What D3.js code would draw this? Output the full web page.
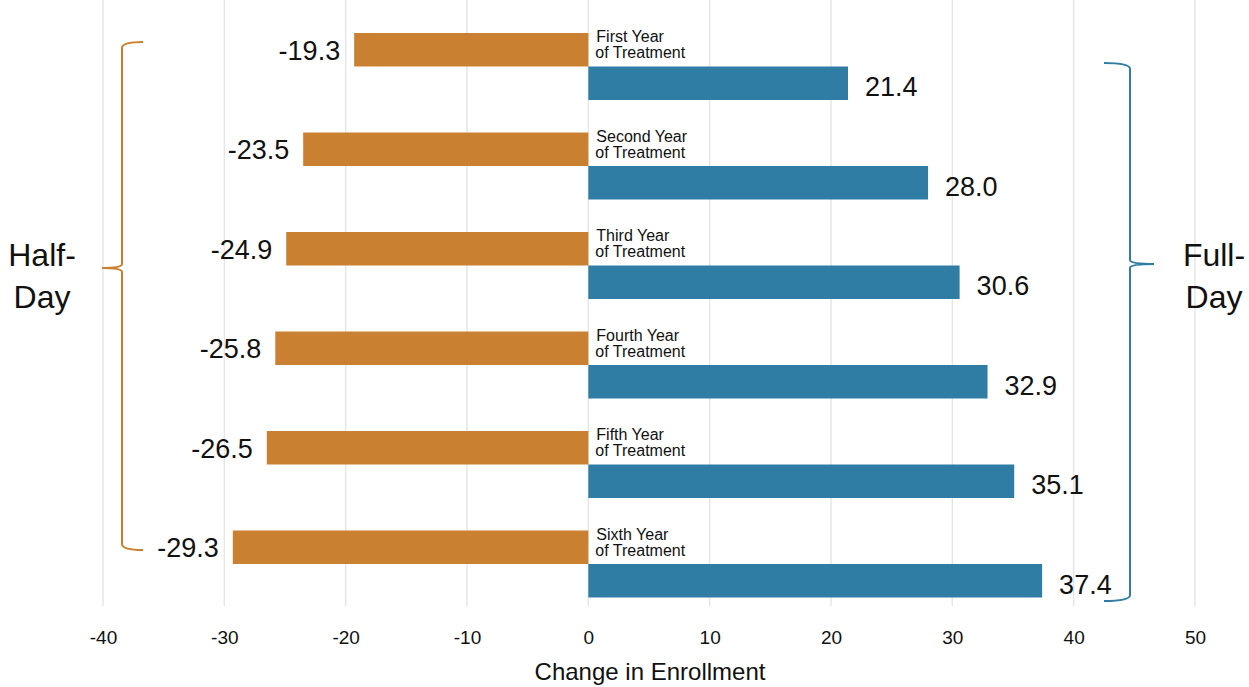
<!DOCTYPE html>
<html>
<head>
<meta charset="utf-8">
<script src="https://cdn.jsdelivr.net/npm/d3@7"></script>
<style>
  html, body { margin: 0; padding: 0; background: #fff; }
  svg { display: block; font-family: "Liberation Sans", Arial, sans-serif; }
</style>
</head>
<body>
<svg id="chart" width="1249" height="687"></svg>
<script>
// Enrollment change by year of treatment
const years = ["First Year", "Second Year", "Third Year", "Fourth Year", "Fifth Year", "Sixth Year"];
const halfDay = [-19.3, -23.5, -24.9, -25.8, -26.5, -29.3];
const fullDay = [21.4, 28.0, 30.6, 32.9, 35.1, 37.4];
const xTicks = [-40, -30, -20, -10, 0, 10, 20, 30, 40, 50];

const orange = "#c98030";
const blue = "#2f7da5";
const ink = "#111";

const svg = d3.select("#chart");

const x = d3.scaleLinear().domain([-40, 50]).range([103, 1195]);
const y = d3.scaleBand().domain(years).range([33, 630]).paddingInner(0).paddingOuter(0);
const barH = 33.5;

// vertical gridlines
svg.append("g").selectAll("line").data(xTicks).join("line")
  .attr("x1", d => x(d)).attr("x2", d => x(d))
  .attr("y1", 0).attr("y2", 606)
  .attr("stroke", "#e6e6e6").attr("stroke-width", 1.5);

// axis tick labels (plain hyphen for negatives)
const axis = d3.axisBottom(x).tickValues(xTicks).tickSize(0).tickPadding(0)
  .tickFormat(d => String(d));
const gAxis = svg.append("g").attr("transform", "translate(0,630)").call(axis);
gAxis.attr("font-family", null).attr("font-size", null);
gAxis.select(".domain").remove();
gAxis.selectAll("text")
  .attr("font-size", 19).attr("fill", ink)
  .attr("dy", "0.71em");

svg.append("text")
  .attr("x", 650).attr("y", 680)
  .attr("text-anchor", "middle")
  .attr("font-size", 24).attr("fill", ink)
  .text("Change in Enrollment");

// bars
const rows = years.map((yr, i) => ({ yr, half: halfDay[i], full: fullDay[i] }));

svg.append("g").selectAll("rect").data(rows).join("rect")
  .attr("x", d => x(d.half)).attr("width", d => x(0) - x(d.half))
  .attr("y", d => y(d.yr)).attr("height", barH)
  .attr("fill", orange);

svg.append("g").selectAll("rect").data(rows).join("rect")
  .attr("x", x(0)).attr("width", d => x(d.full) - x(0))
  .attr("y", d => y(d.yr) + barH).attr("height", barH)
  .attr("fill", blue);

// value labels
svg.append("g").selectAll("text").data(rows).join("text")
  .attr("x", d => x(d.half) - 14)
  .attr("y", d => y(d.yr) + barH / 2 + 10)
  .attr("text-anchor", "end")
  .attr("font-size", 27).attr("fill", ink)
  .text(d => d.half.toFixed(1));

svg.append("g").selectAll("text").data(rows).join("text")
  .attr("x", d => x(d.full) + 17)
  .attr("y", d => y(d.yr) + barH * 1.5 + 13)
  .attr("font-size", 27).attr("fill", ink)
  .text(d => d.full.toFixed(1));

// year captions
const cap = svg.append("g").selectAll("text").data(rows).join("text")
  .attr("x", x(0) + 8)
  .attr("y", d => y(d.yr) + 9)
  .attr("font-size", 16).attr("fill", ink);
cap.append("tspan").text(d => d.yr);
cap.append("tspan").attr("x", x(0) + 7).attr("dy", 16).text("of Treatment");

// curly braces
function bracePath(xv, top, bottom, mid, dir, hook, tip) {
  // dir: -1 cusp points left, +1 cusp points right
  const h = -dir * hook;
  return `M${xv + h},${top} Q${xv},${top} ${xv},${top + 6}`
    + ` L${xv},${mid - 4} Q${xv},${mid} ${xv + dir * tip},${mid}`
    + ` Q${xv},${mid} ${xv},${mid + 4}`
    + ` L${xv},${bottom - 6} Q${xv},${bottom} ${xv + h},${bottom}`;
}

svg.append("path")
  .attr("d", bracePath(122, 42, 550, 268, -1, 21, 20))
  .attr("fill", "none").attr("stroke", orange).attr("stroke-width", 2);

svg.append("path")
  .attr("d", bracePath(1130, 63, 601, 264, 1, 26, 24))
  .attr("fill", "none").attr("stroke", blue).attr("stroke-width", 2);

// group labels
const groupLabels = [
  { lines: ["Half-", "Day"], x: 42 },
  { lines: ["Full-", "Day"], x: 1214 }
];
groupLabels.forEach(g => {
  const t = svg.append("text")
    .attr("x", g.x).attr("y", 266)
    .attr("text-anchor", "middle")
    .attr("font-size", 32).attr("fill", ink);
  t.append("tspan").attr("x", g.x).text(g.lines[0]);
  t.append("tspan").attr("x", g.x).attr("dy", 42).text(g.lines[1]);
});
</script>
</body>
</html>
